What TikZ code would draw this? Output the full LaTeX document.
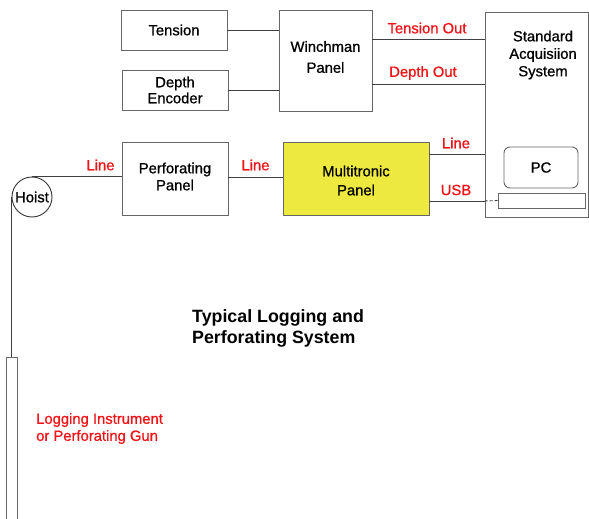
\documentclass[tikz,border=0pt]{standalone}
\usepackage{fontspec}
\setmainfont{Liberation Sans}
\newfontfamily\medfont{Liberation Sans}[FakeBold=0.9]
\newcommand{\lblfont}[1]{\medfont\fontsize{14.8}{#1}\selectfont}
\begin{document}
\begin{tikzpicture}[x=1pt,y=-1pt,
  box/.style={draw=black!60, line width=0.9pt, rectangle, inner sep=0pt, align=center, font=\lblfont{18}},
  txt/.style={inner sep=0pt, align=center},
  lbl/.style={text={rgb,255:red,240;green,20;blue,25}, font=\lblfont{17}, inner sep=0pt},
  wire/.style={draw=black!75, line width=0.9pt}]
\useasboundingbox (0,0) rectangle (589,519);
% boxes
\node[box, minimum width=106pt, minimum height=40pt] (tension) at (174,30) {Tension};
\node[box, minimum width=106pt, minimum height=40pt, font=\lblfont{16}] (depth) at (175,90) {Depth\\Encoder};
\node[box, minimum width=93pt, minimum height=101pt] (winch) at (325.5,60.5) {};
\node[txt, font=\lblfont{21}] (winchtxt) at (325.5,57) {Winchman\\Panel};
\node[box, minimum width=103pt, minimum height=205pt] (sas) at (536.5,114.5) {};
\node[txt, font=\lblfont{17.5}] (sastxt) at (543,55) {Standard\\Acquisiion\\System};
\node[box, rounded corners=6pt, minimum width=74pt, minimum height=41pt] (pc) at (541,167.5) {PC};
\node[box, minimum width=87pt, minimum height=15pt] (kbd) at (541.5,200.5) {};
\node[box, fill={rgb,255:red,237;green,233;blue,62}, minimum width=146pt, minimum height=73pt] (multi) at (356,178.5) {};
\node[txt, font=\lblfont{19}] (multitxt) at (356,180.5) {Multitronic\\Panel};
\node[box, minimum width=106pt, minimum height=73pt] (perf) at (175,178.5) {};
\node[txt, font=\lblfont{17}] (perftxt) at (175,176.5) {Perforating\\Panel};
\node[box, circle, draw=black!80, minimum size=40pt] (hoist) at (32,197) {Hoist};
\node[box, minimum width=11pt, minimum height=170pt, anchor=north west] (tool) at (6,357) {};
% connectors
\draw[wire] (tension.east) -- (tension.east -| winch.west);
\draw[wire] (depth.east) -- (depth.east -| winch.west);
\coordinate (to) at (winch.east |- 0,39);
\coordinate (do) at (winch.east |- 0,84);
\draw[wire] (to) -- (to -| sas.west);
\draw[wire] (do) -- (do -| sas.west);
\coordinate (ml) at (multi.east |- 0,154);
\coordinate (mu) at (multi.east |- 0,201);
\draw[wire] (ml) -- (ml -| sas.west);
\draw[wire] (mu) -- (mu -| sas.west);
\draw[wire, densely dashed] (mu -| sas.west) -- (kbd.west);
\draw[wire] (perf.east |- 0,177) -- (multi.west |- 0,177);
\draw[wire] (hoist.north) -- (hoist.north -| perf.west);
\draw[wire] (hoist.west) -- (hoist.west |- tool.north);
% labels
\node[lbl] (l1) at (100.5,165) {Line};
\node[lbl] (l2) at (255.5,165) {Line};
\node[lbl] (l3) at (456,143) {Line};
\node[lbl] (l4) at (456,190) {USB};
\node[lbl] (l5) at (427,28) {Tension Out};
\node[lbl] (l6) at (423,73) {Depth Out};
\node[lbl, anchor=west, align=left] (gun) at (36,428.5) {Logging Instrument\\or Perforating Gun};
\node[anchor=west, align=left, inner sep=0pt, font=\bfseries\fontsize{17.8}{21}\selectfont] (title) at (192,328.5) {Typical Logging and\\Perforating System};
\end{tikzpicture}
\end{document}
